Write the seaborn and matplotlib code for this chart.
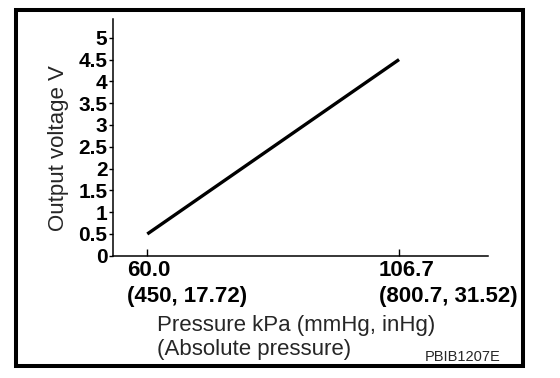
import matplotlib
matplotlib.use("Agg")
import matplotlib.pyplot as plt
import matplotlib.transforms as mtransforms
from matplotlib.patches import Rectangle
import pandas as pd
import seaborn as sns

pressure_kpa = [60.0, 106.7]
output_voltage = [0.5, 4.5]

x_tick_values = [60.0, 106.7]
x_tick_labels = ["60.0\n(450, 17.72)", "106.7\n(800.7, 31.52)"]
y_tick_values = [0, 0.5, 1, 1.5, 2, 2.5, 3, 3.5, 4, 4.5, 5]
y_tick_labels = ["0", "0.5", "1", "1.5", "2", "2.5", "3", "3.5", "4", "4.5", "5"]

x_label = "Pressure kPa (mmHg, inHg)"
x_label_note = "(Absolute pressure)"
y_label = "Output voltage V"
figure_code = "PBIB1207E"

sns.set_style("ticks")
plt.rcParams['font.family'] = ['Liberation Sans', 'DejaVu Sans']

W, H = 560, 378
fig = plt.figure(figsize=(W / 100, H / 100), dpi=100)
ax = fig.add_axes([113 / W, 1 - 255.8 / H, (488 - 113) / W, (255.8 - 19) / H])

df = pd.DataFrame({'pressure': pressure_kpa, 'voltage': output_voltage})
sns.lineplot(data=df, x='pressure', y='voltage', ax=ax, color='black',
             linewidth=2.4, solid_capstyle='butt')

ax.set_xlim(53.64, 123.2)
ax.set_ylim(0, 5.43)

ax.tick_params(axis='y', direction='out', length=3, width=1, pad=1, colors='black')
ax.tick_params(axis='x', direction='in', length=5, width=1, pad=3, colors='black')

ax.set_yticks(y_tick_values)
ax.set_yticklabels(y_tick_labels, fontsize=15, fontweight='bold')
ax.set_xticks(x_tick_values)
ax.set_xticklabels(x_tick_labels, fontsize=16, fontweight='bold',
                   ha='left', multialignment='left', linespacing=1.3)

# etiquetas desplazadas a la izquierda de la marca
offset = mtransforms.ScaledTranslation(-20 / 100, 0, fig.dpi_scale_trans)
for tick in ax.xaxis.get_major_ticks():
    tick.label1.set_transform(tick.label1.get_transform() + offset)

for side in ['top', 'right']:
    ax.spines[side].set_visible(False)
for side in ['left', 'bottom']:
    ax.spines[side].set_linewidth(1.1)
    ax.spines[side].set_color('black')

label_x = (157 - 113) / 375
ax.set_xlabel(x_label, fontsize=16)
ax.xaxis.label.set_ha('left')
ax.xaxis.set_label_coords(label_x, (255.8 - 315) / 236.8)
ax.text(label_x, (255.8 - 355) / 236.8, x_label_note, fontsize=16,
        ha='left', va='baseline', transform=ax.transAxes)

ax.set_ylabel(y_label, fontsize=16)
ax.yaxis.set_label_coords((69 - 113) / 375, (255.8 - 148) / 236.8)

fig.text(425 / W, 1 - 361 / H, figure_code, fontsize=10.5, ha='left', va='baseline')

# marco exterior
fig.patches.append(Rectangle((16 / W, 1 - 366 / H), (523 - 16) / W, (366 - 10) / H,
                             transform=fig.transFigure, fill=False,
                             edgecolor='black', linewidth=2.9))

fig.savefig("out.png", dpi=100)
